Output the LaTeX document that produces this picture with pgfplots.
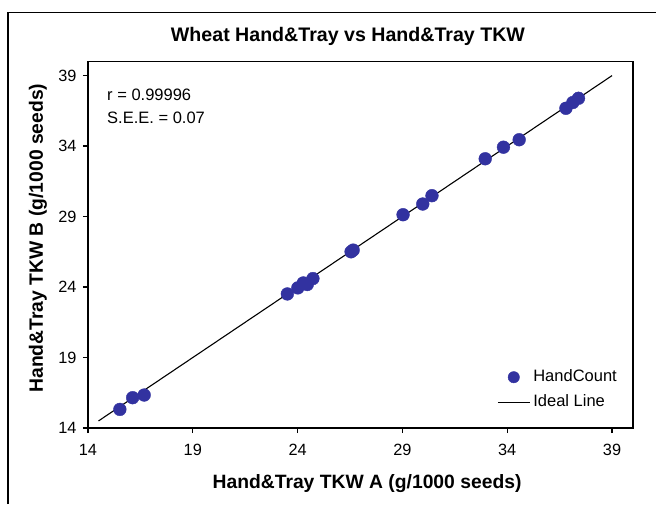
\documentclass[border=0pt]{standalone}
\usepackage{pgfplots}
\pgfplotsset{compat=1.18}
\usepackage{fontspec}
\setmainfont{Liberation Sans}
\definecolor{dotblue}{RGB}{50,50,160}
\begin{document}
\begin{tikzpicture}
\begin{axis}[
  at={(0pt,0pt)}, anchor=south west,
  scale only axis, width=545pt, height=366.5pt,
  xmin=14, xmax=40, ymin=14, ymax=40,
  xtick={14,19,24,29,34,39}, ytick={14,19,24,29,34,39},
  tick align=outside, xtick pos=left, ytick pos=left,
  major tick length=5pt,
  axis line style={line width=1.3pt},
  every tick/.style={line width=1.2pt, black},
  /pgf/number format/assume math mode=true,
  tick label style={font=\fontsize{16.3}{19}\selectfont},
  xticklabel style={yshift=-8pt},
  yticklabel style={xshift=-3pt},
  title={\bfseries Wheat Hand\&Tray vs Hand\&Tray TKW},
  title style={at={(0.477,1)}, anchor=base, yshift=14pt, font=\fontsize{19.6}{22}\selectfont},
  xlabel={\bfseries Hand\&Tray TKW A (g/1000 seeds)},
  xlabel style={at={(0.512,0)}, anchor=base, yshift=-60pt, font=\fontsize{19.3}{22}\selectfont},
  ylabel={\bfseries Hand\&Tray TKW B (g/1000 seeds)},
  ylabel style={at={(-0.0826,0.518)}, anchor=base, font=\fontsize{19.3}{22}\selectfont},
  legend style={at={(0.7505,0.1623)}, anchor=north west, draw=none, fill=none,
    inner sep=0pt, row sep=8pt, column sep=2pt,
    nodes={inner sep=1pt, text height=12pt, text depth=3pt},
    font=\fontsize{16.5}{19}\selectfont},
  legend cell align=left,
]
\addplot[only marks, mark=*, mark size=6.4pt, color=dotblue,
  legend image code/.code={\draw[only marks, mark=*, mark size=5.7pt, color=dotblue] plot coordinates {(16pt,0pt)};}]
  coordinates {
  (15.52,15.32) (16.13,16.15) (16.68,16.34) (23.51,23.51) (24.01,23.94)
  (24.27,24.29) (24.46,24.18) (24.73,24.60) (26.55,26.50) (26.65,26.62)
  (29.03,29.13) (29.97,29.89) (30.41,30.48) (32.95,33.10) (33.82,33.92)
  (34.57,34.45) (36.80,36.68) (37.13,37.09) (37.40,37.39)
  };
\addlegendentry{HandCount}
\addplot[black, line width=1.1pt,
  legend image code/.code={\draw[black, line width=1.1pt] (0pt,0pt) -- (32pt,0pt);}]
  coordinates {(14.5,14.5) (39,39)};
\addlegendentry{Ideal Line}
\node[anchor=base west, inner sep=0pt, font=\fontsize{16.5}{19}\selectfont] at (rel axis cs:0.0349,0.8936) {r = 0.99996};
\node[anchor=base west, inner sep=0pt, font=\fontsize{16.5}{19}\selectfont] at (rel axis cs:0.0349,0.8322) {S.E.E. = 0.07};
\end{axis}
\draw[line width=1.3pt] (-80pt,-76pt) -- (-80pt,415.5pt) -- (568pt,415.5pt);
\pgfresetboundingbox
\useasboundingbox (-88pt,-76pt) rectangle (568pt,428pt);
\end{tikzpicture}
\end{document}
